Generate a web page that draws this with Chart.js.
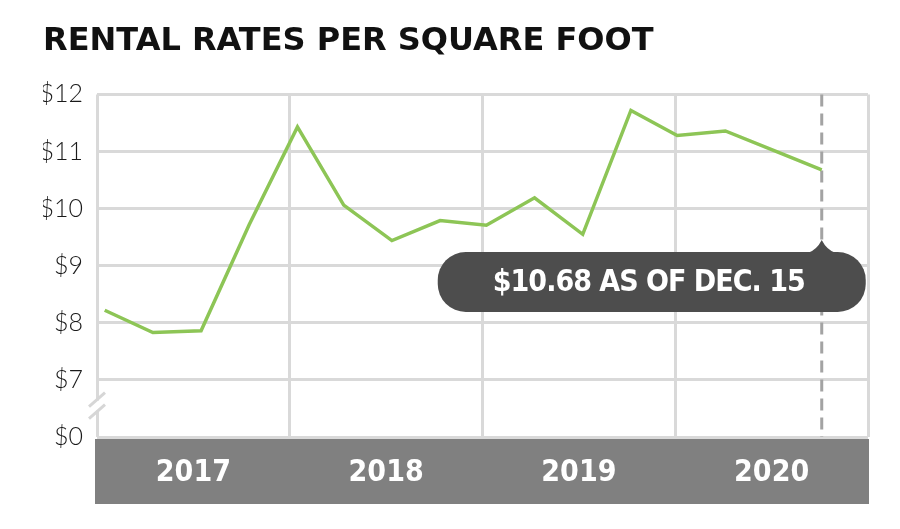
<!DOCTYPE html>
<html lang="en">
<head>
    <meta charset="UTF-8">
    <title>Rental Rates Per Square Foot</title>
    <script src="https://cdn.jsdelivr.net/npm/chart.js"></script>
    <style>
        html, body { margin: 0; padding: 0; background: #fff; }
        canvas { display: block; }
    </style>
</head>
<body>
    <canvas id="rentChart" width="900" height="529"></canvas>

    <script>
        // quarterly readings, x as fractional year
        const dates = [2017.04, 2017.29, 2017.54, 2017.79, 2018.04, 2018.28, 2018.53, 2018.78,
                       2019.02, 2019.27, 2019.52, 2019.77, 2020.01, 2020.26, 2020.51, 2020.76];
        const rates = [8.22, 7.83, 7.86, 9.72, 11.43, 10.06, 9.44, 9.79,
                       9.71, 10.19, 9.55, 11.72, 11.28, 11.36, 11.02, 10.68];
        const years = ['2017', '2018', '2019', '2020'];
        const yTicks = [6, 7, 8, 9, 10, 11, 12];
        const yTickLabels = ['$0', '$7', '$8', '$9', '$10', '$11', '$12'];
        const calloutText = '$10.68 AS OF DEC. 15';

        const boldFont = '"DejaVu Sans Condensed", "DejaVu Sans", sans-serif';

        const decor = {
            id: 'decor',
            beforeDraw(chart) {
                const { ctx, chartArea } = chart;
                const xs = chart.scales.x;
                ctx.save();
                ctx.fillStyle = '#808080';
                ctx.fillRect(chartArea.left - 2, chartArea.bottom + 2, chartArea.right - chartArea.left + 3, xs.bottom - chartArea.bottom - 1);
                ctx.restore();
            },
            beforeDatasetsDraw(chart) {
                const { ctx, chartArea } = chart;
                const x = chart.scales.x.getPixelForValue(dates[dates.length - 1]);
                ctx.save();
                ctx.strokeStyle = '#a3a3a3';
                ctx.lineWidth = 3;
                ctx.setLineDash([12, 7]);
                ctx.beginPath();
                ctx.moveTo(x, chartArea.top);
                ctx.lineTo(x, chartArea.bottom);
                ctx.stroke();
                ctx.restore();
            },
            afterDatasetsDraw(chart) {
                const { ctx } = chart;
                const ys = chart.scales.y;
                const ax = chart.scales.x.getPixelForValue(dates[dates.length - 1]);
                const top = ys.getPixelForValue(9.24);
                const bottom = ys.getPixelForValue(8.19);
                const tip = ys.getPixelForValue(9.45);
                const left = ax - 384, right = ax + 44;

                ctx.save();
                ctx.fillStyle = '#4d4d4d';
                ctx.beginPath();
                ctx.roundRect(left, top, right - left, bottom - top, 28);
                ctx.fill();
                // pointer
                ctx.beginPath();
                ctx.moveTo(ax - 14, top + 1);
                ctx.quadraticCurveTo(ax - 5, top - 2, ax, tip);
                ctx.quadraticCurveTo(ax + 5, top - 2, ax + 14, top + 1);
                ctx.closePath();
                ctx.fill();

                ctx.fillStyle = '#ffffff';
                ctx.font = 'bold 30px ' + boldFont;
                ctx.letterSpacing = '-1px';
                ctx.textAlign = 'center';
                ctx.textBaseline = 'middle';
                ctx.fillText(calloutText, (left + right) / 2 - 3, (top + bottom) / 2 + 1);
                ctx.restore();
            },
            afterDraw(chart) {
                // axis break marks between $0 and $7
                const { ctx, chartArea } = chart;
                const ys = chart.scales.y;
                const cy = ys.getPixelForValue(6.55);
                const cx = chartArea.left;
                ctx.save();
                ctx.fillStyle = '#ffffff';
                ctx.fillRect(cx - 3, cy - 5, 6, 10);
                ctx.strokeStyle = '#d6d6d6';
                ctx.lineWidth = 3;
                ctx.beginPath();
                ctx.moveTo(cx - 8, cy + 1);
                ctx.lineTo(cx + 8, cy - 13);
                ctx.moveTo(cx - 8, cy + 13);
                ctx.lineTo(cx + 8, cy - 1);
                ctx.stroke();
                ctx.restore();
            }
        };

        const ctx = document.getElementById('rentChart').getContext('2d');
        new Chart(ctx, {
            type: 'line',
            data: {
                datasets: [{
                    label: 'Rental rate per sq. ft.',
                    data: dates.map((d, i) => ({ x: d, y: rates[i] })),
                    borderColor: '#8dc556',
                    borderWidth: 3.5,
                    pointRadius: 0,
                    tension: 0,
                    fill: false
                }]
            },
            options: {
                responsive: false,
                animation: false,
                layout: {
                    padding: { left: 43, right: 32, top: 0, bottom: 26 }
                },
                plugins: {
                    legend: { display: false },
                    tooltip: { enabled: false },
                    title: {
                        display: true,
                        text: 'RENTAL RATES PER SQUARE FOOT',
                        align: 'start',
                        color: '#111111',
                        font: { family: '"DejaVu Sans", sans-serif', weight: 'bold', size: 32, lineHeight: 1.2 },
                        padding: { top: 22, bottom: 34 }
                    }
                },
                scales: {
                    x: {
                        type: 'linear',
                        min: 2017,
                        max: 2021,
                        afterBuildTicks: (scale) => {
                            const t = [];
                            for (let i = 0; i <= years.length * 2; i++) t.push({ value: 2017 + i / 2 });
                            scale.ticks = t;
                        },
                        afterFit: (scale) => { scale.height = 66; },
                        border: { display: false },
                        grid: {
                            drawTicks: false,
                            lineWidth: 3,
                            color: (c) => (c.tick && Number.isInteger(c.tick.value)) ? '#d9d9d9' : 'rgba(0,0,0,0)'
                        },
                        ticks: {
                            autoSkip: false,
                            maxRotation: 0,
                            padding: 18,
                            color: '#ffffff',
                            font: { family: boldFont, weight: 'bold', size: 30 },
                            callback: (v) => Number.isInteger(v) ? '' : years[Math.floor(v) - 2017]
                        }
                    },
                    y: {
                        min: 6,
                        max: 12,
                        afterBuildTicks: (scale) => { scale.ticks = yTicks.map(v => ({ value: v })); },
                        afterFit: (scale) => { scale.width = 54; },
                        border: { display: false },
                        grid: {
                            drawTicks: false,
                            lineWidth: 3,
                            color: '#d9d9d9'
                        },
                        ticks: {
                            padding: 14,
                            color: '#1a1a1a',
                            font: { family: 'Lato', weight: '300', size: 25 },
                            callback: (v) => yTickLabels[yTicks.indexOf(v)]
                        }
                    }
                }
            },
            plugins: [decor]
        });
    </script>
</body>
</html>
